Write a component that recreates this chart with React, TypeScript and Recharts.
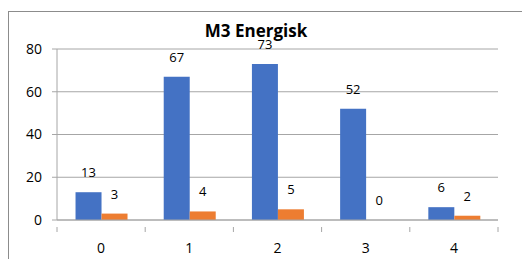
import React from "react";
import { BarChart, Bar, XAxis, YAxis, CartesianGrid, LabelList } from "recharts";

const categories = ["0", "1", "2", "3", "4"];
const seriesBlue = [13, 67, 73, 52, 6];
const seriesOrange = [3, 4, 5, 0, 2];
const yTicks = [0, 20, 40, 60, 80];
const title = "M3 Energisk";

const data = categories.map((c, i) => ({ cat: c, a: seriesBlue[i], b: seriesOrange[i] }));

const W = 513;
const H = 247;
const margin = { top: 37, right: 24, left: 8, bottom: 9 };
const yAxisWidth = 40;
const FONT = "'Open Sans', sans-serif";
const GRID = "#A6A6A6";

const plotWidth = W - margin.left - margin.right - yAxisWidth;
const band = plotWidth / categories.length;

const XTick = (props: any) => {
  const { x, y, payload, index } = props;
  const left = x - band / 2;
  const right = x + band / 2;
  return (
    <g>
      <line x1={left} y1={y - 1} x2={left} y2={y + 4} stroke={GRID} strokeWidth={1} />
      {index === categories.length - 1 && (
        <line x1={right} y1={y - 1} x2={right} y2={y + 4} stroke={GRID} strokeWidth={1} />
      )}
      <text x={x} y={y + 21} textAnchor="middle" dominantBaseline="middle" fontSize={14} fontFamily={FONT} fill="#000">
        {payload.value}
      </text>
    </g>
  );
};

export default function App() {
  return (
    <div
      style={{
        position: "fixed",
        left: 8,
        top: 11,
        width: 514,
        height: 248,
        borderLeft: "1px solid #8C8C8C",
        borderTop: "1px solid #8C8C8C",
        boxSizing: "border-box",
        background: "#fff",
      }}
    >
      <BarChart width={W} height={H} data={data} margin={margin} barCategoryGap="21%" barGap={0}>
        <CartesianGrid vertical={false} stroke={GRID} />
        <XAxis
          dataKey="cat"
          height={30}
          axisLine={{ stroke: GRID }}
          tickLine={false}
          tick={<XTick />}
          interval={0}
        />
        <YAxis
          width={yAxisWidth}
          domain={[0, 80]}
          ticks={yTicks}
          axisLine={{ stroke: GRID }}
          tickLine={{ stroke: GRID }}
          tickSize={5}
          tickMargin={10}
          tick={{ fontSize: 14, fontFamily: FONT, fill: "#000" }}
        />
        <Bar dataKey="a" fill="#4472C4" isAnimationActive={false}>
          <LabelList dataKey="a" position="top" offset={15} fontSize={13} fontFamily={FONT} fill="#000" />
        </Bar>
        <Bar dataKey="b" fill="#ED7D31" isAnimationActive={false} minPointSize={0.01}>
          <LabelList dataKey="b" position="top" offset={15} fontSize={13} fontFamily={FONT} fill="#000" />
        </Bar>
        <text x={247} y={20} textAnchor="middle" dominantBaseline="middle" fontSize={17} fontWeight="bold" fontFamily={FONT} fill="#000">
          {title}
        </text>
      </BarChart>
    </div>
  );
}
